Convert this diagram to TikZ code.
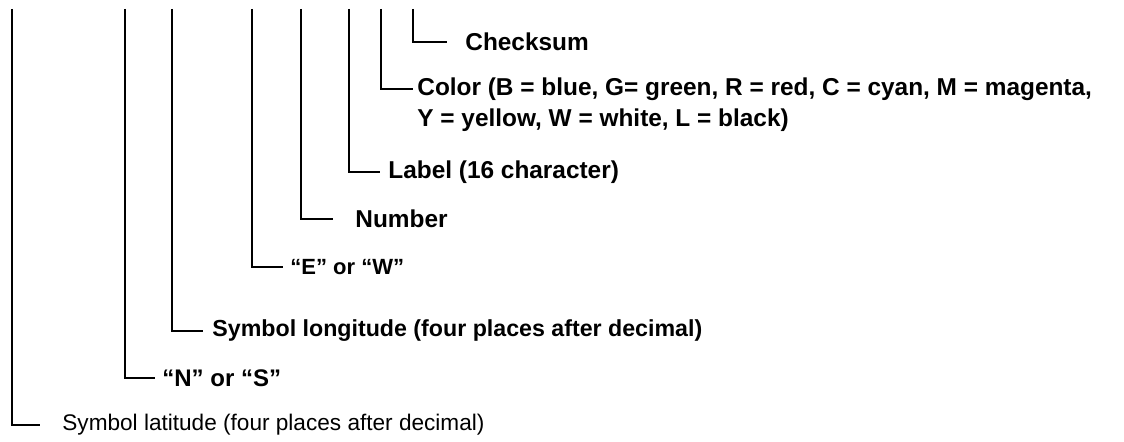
\documentclass[tikz,border=0pt]{standalone}
\usepackage{fontspec}
\setmainfont{Liberation Sans}
\usetikzlibrary{positioning}

\begin{document}
\begin{tikzpicture}[x=0.5pt, y=-0.5pt,
          lbl/.style={anchor=west, inner sep=0pt, font=\fontsize{#1}{#1}\selectfont\bfseries},
          lbl/.default=12.2,
          lblthin/.style={anchor=west, inner sep=0pt, font=\fontsize{#1}{#1}\selectfont},
          lead/.style={draw, line width=1.2pt, shorten >=#1},
          lead/.default=4pt
        ]
        \useasboundingbox (0,0) rectangle (1124,442);
        % tops of the field lines
        \coordinate (lattop) at (12,9);
        \coordinate (nstop) at (125,9);
        \coordinate (lontop) at (172,9);
        \coordinate (ewtop) at (252,9);
        \coordinate (numtop) at (301,9);
        \coordinate (labeltop) at (349,9);
        \coordinate (colortop) at (381,9);
        \coordinate (checktop) at (413,9);
        % field descriptions
        \node[lbl] (check) at (465,42) {Checksum};
        \node[lbl] (color) at (417,89) {Color (B = blue, G= green, R = red, C = cyan, M = magenta,};
        \node[lbl] (color2) at (417,120) {Y = yellow, W = white, L = black)};
        \node[lbl] (label) at (388,172) {Label (16 character)};
        \node[lbl] (num) at (355,219) {Number};
        \node[lbl=11] (ew) at (290,267) {“E” or “W”};
        \node[lbl=11.6] (lon) at (212,331) {Symbol longitude (four places after decimal)};
        \node[lbl=12] (ns) at (162,378) {“N” or “S”};
        \node[lblthin=11.3] (lat) at (62,425) {Symbol latitude (four places after decimal)};
        % leaders
        \draw[lead=9pt] (checktop) |- (check.west);
        \draw[lead=2pt] (colortop) |- (color.west);
        \draw[lead=4pt] (labeltop) |- (label.west);
        \draw[lead=11pt] (numtop) |- (num.west);
        \draw[lead=3.5pt] (ewtop) |- (ew.west);
        \draw[lead=4.5pt] (lontop) |- (lon.west);
        \draw[lead=3.5pt] (nstop) |- (ns.west);
        \draw[lead=11pt] (lattop) |- (lat.west);
        \end{tikzpicture}
\end{document}
